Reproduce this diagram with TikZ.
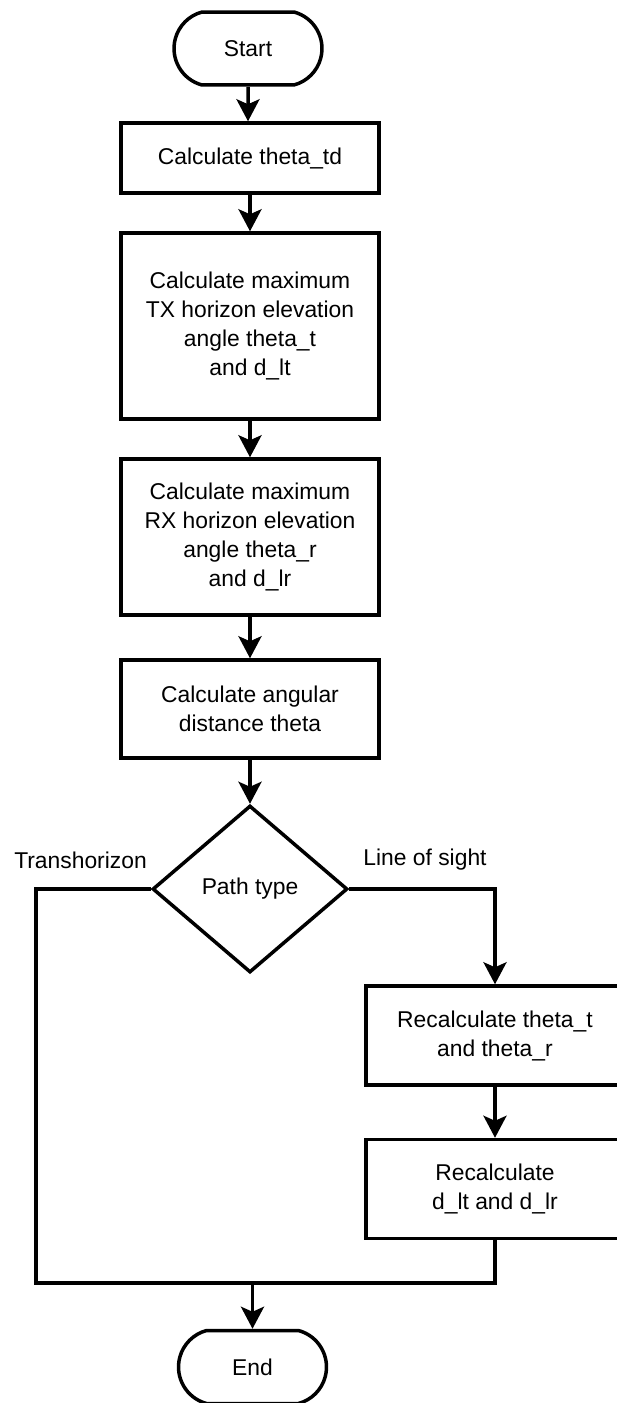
\documentclass[tikz,border=0pt]{standalone}
\usepackage{fontspec}
\setmainfont{Liberation Sans}
\usetikzlibrary{shapes.geometric,shapes.misc,arrows.meta}
\tikzset{
	txt/.style={font=\fontsize{13pt}{16.5pt}\selectfont},
	stepbox/.style={txt, draw, rectangle, line width=0.07cm, minimum width=5.16cm, align=center, inner sep=0pt},
	termbox/.style={txt, draw, rounded rectangle, rounded rectangle arc length=150, line width=0.07cm, minimum width=2.96cm, minimum height=1.46cm, inner sep=0pt},
	decbox/.style={txt, draw, diamond, line width=0.07cm, minimum width=3.9cm, minimum height=3.34cm, inner sep=0pt},
	flow/.style={line width=0.07cm, -{Stealth[length=0.44cm, width=0.46cm, inset=0.1cm]}},
	link/.style={line width=0.07cm}
}

\begin{document}
\begin{tikzpicture}[x=0.02cm, y=-0.02cm]
			%%%%% START %%%%%
			\useasboundingbox (0, 0) rectangle (616, 1403);
			
			\node[termbox] (start) at (248, 48.5) {Start};
			\node[stepbox, minimum height=1.4cm] (calcTd) at (250, 158) {Calculate theta\_td};
			\node[stepbox, minimum height=3.72cm] (calcTx) at (250, 326) {Calculate maximum\\TX horizon elevation\\angle theta\_t\\and d\_lt};
			\node[stepbox, minimum height=3.12cm] (calcRx) at (250, 537) {Calculate maximum\\RX horizon elevation\\angle theta\_r\\and d\_lr};
			\node[stepbox, minimum height=1.96cm] (calcAng) at (250, 709) {Calculate angular\\distance theta};
			
			\node[decbox] (pathType) at (250, 889) {Path type};
			\node[txt] (lblTrans) at (80.5, 860) {Transhorizon};
			\node[txt] (lblLos) at (425, 860) {Line of sight};
			
			\node[stepbox, minimum height=1.98cm] (recalcTh) at (495, 1035.5) {Recalculate theta\_t\\and theta\_r};
			\node[stepbox, minimum height=1.98cm] (recalcD) at (495, 1189) {Recalculate\\d\_lt and d\_lr};
			
			\node[termbox] (stop) at (252.5, 1367) {End};
			
			\coordinate (lftBot) at (36, 1283);
			\coordinate (merge) at (252.5, 1283);
			
			% main column
			\draw[flow] (start) -- (start |- calcTd.north);
			\draw[flow] (calcTd) -- (calcTx);
			\draw[flow] (calcTx) -- (calcRx);
			\draw[flow] (calcRx) -- (calcAng);
			\draw[flow] (calcAng) -- (pathType);
			
			% line of sight branch
			\draw[flow] (pathType.east) -| (recalcTh.north);
			\draw[flow] (recalcTh) -- (recalcD);
			
			% both branches join
			\draw[link] (pathType.west) -| (lftBot) -- (recalcD.south |- lftBot) -- (recalcD.south);
			\draw[flow] (merge) -- (stop.north);
			
			%%%%% END %%%%%
\end{tikzpicture}
\end{document}
